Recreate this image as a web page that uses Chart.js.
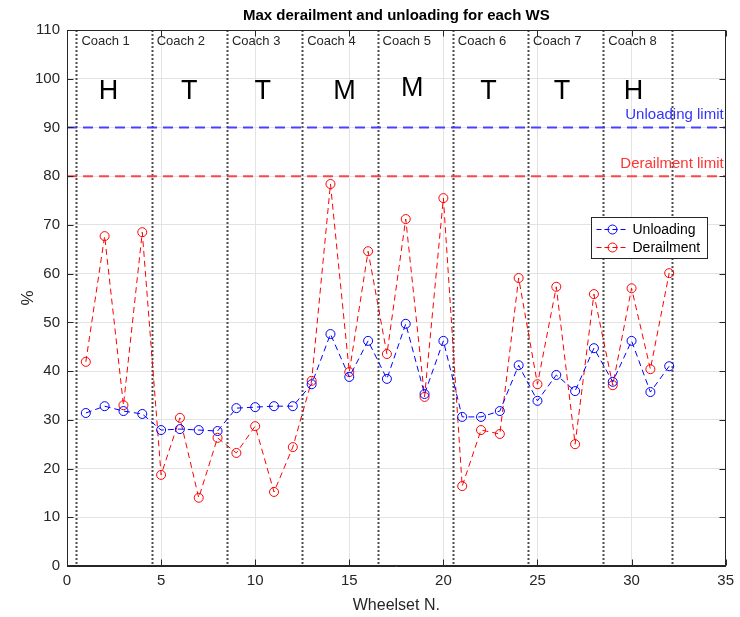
<!DOCTYPE html>
<html>
<head>
<meta charset="utf-8">
<script src="https://cdn.jsdelivr.net/npm/chart.js@4.4.1/dist/chart.umd.min.js"></script>
<style>
  html, body { margin: 0; padding: 0; background: #fff; }
  #wrap { width: 740px; height: 617px; }
</style>
</head>
<body>
<div id="wrap"><canvas id="chart" width="740" height="617"></canvas></div>
<script>
// Chart data
const wheelsets = [1, 2, 3, 4, 5, 6, 7, 8, 9, 10, 11, 12, 13, 14, 15, 16,
                   17, 18, 19, 20, 21, 22, 23, 24, 25, 26, 27, 28, 29, 30, 31, 32];
const unloading = [31.4, 32.8, 31.8, 31.2, 27.9, 28.1, 27.9, 27.7, 32.4, 32.6, 32.8, 32.8, 37.3, 47.6, 38.8, 46.2,
                   38.4, 49.7, 35.3, 46.2, 30.6, 30.6, 31.8, 41.2, 33.9, 39.2, 35.9, 44.7, 37.8, 46.2, 35.7, 41.0];
const derailment = [41.9, 67.7, 33.0, 68.5, 18.7, 30.4, 14.0, 26.3, 23.2, 28.7, 15.2, 24.4, 38.0, 78.4, 39.8, 64.6,
                    43.5, 71.2, 34.7, 75.5, 16.4, 27.9, 27.1, 59.1, 37.3, 57.3, 25.0, 55.8, 37.1, 57.0, 40.4, 60.1];

const unloadingLimit = 90;
const derailmentLimit = 80;

// Coach boundaries (wheelset axis) and annotations
const coachBounds = [0.5, 4.5, 8.5, 12.5, 16.5, 20.5, 24.5, 28.5, 32.15];
const coachNames = ['Coach 1', 'Coach 2', 'Coach 3', 'Coach 4', 'Coach 5', 'Coach 6', 'Coach 7', 'Coach 8'];
const coachTypes = ['H', 'T', 'T', 'M', 'M', 'T', 'T', 'H'];
const coachTypeX = [2.2, 6.5, 10.4, 14.75, 18.35, 22.4, 26.3, 30.1];
const coachTypeY = [97.3, 97.3, 97.3, 97.3, 98.0, 97.3, 97.3, 97.3];

const AXIS = '#262626';
const FONT = "'Liberation Sans', Arial, sans-serif";

const toPoints = (xs, ys) => xs.map((x, i) => ({ x: x, y: ys[i] }));

// Draws coach separators, labels, limit texts, legend and the axis box
const annotations = {
    id: 'annotations',
    beforeDatasetsDraw(chart) {
        const { ctx, scales: { x, y } } = chart;
        ctx.save();
        ctx.strokeStyle = '#4d4d4d';
        ctx.lineWidth = 2;
        ctx.setLineDash([2, 2]);
        coachBounds.forEach(b => {
            const px = Math.round(x.getPixelForValue(b)) + 0.5;
            ctx.beginPath();
            ctx.moveTo(px, y.getPixelForValue(110));
            ctx.lineTo(px, y.getPixelForValue(0));
            ctx.stroke();
        });
        ctx.restore();
    },
    afterDraw(chart) {
        const { ctx, chartArea: a, scales: { x, y } } = chart;
        ctx.save();

        // Title
        ctx.fillStyle = '#000';
        ctx.font = 'bold 15px ' + FONT;
        ctx.textAlign = 'center';
        ctx.textBaseline = 'middle';
        ctx.fillText('Max derailment and unloading for each WS', (a.left + a.right) / 2, 16);

        // Coach names
        ctx.fillStyle = AXIS;
        ctx.font = '13px ' + FONT;
        ctx.textAlign = 'left';
        coachNames.forEach((name, i) => {
            ctx.fillText(name, x.getPixelForValue(coachBounds[i]) + 5, y.getPixelForValue(107.6));
        });

        // Coach types
        ctx.fillStyle = '#000';
        ctx.font = '27px ' + FONT;
        ctx.textAlign = 'center';
        coachTypes.forEach((t, i) => {
            ctx.fillText(t, x.getPixelForValue(coachTypeX[i]), y.getPixelForValue(coachTypeY[i]));
        });

        // Limit labels
        ctx.font = '15px ' + FONT;
        ctx.textAlign = 'right';
        ctx.fillStyle = '#3333ff';
        ctx.fillText('Unloading limit', a.right - 2, y.getPixelForValue(92.6));
        ctx.fillStyle = '#ff3333';
        ctx.fillText('Derailment limit', a.right - 2, y.getPixelForValue(82.5));

        // Legend
        const lx = 591.5, ly = 217.5, lw = 116, lh = 41;
        ctx.fillStyle = '#fff';
        ctx.fillRect(lx, ly, lw, lh);
        ctx.strokeStyle = AXIS;
        ctx.lineWidth = 1;
        ctx.strokeRect(lx, ly, lw, lh);
        const rows = [
            { label: 'Unloading', color: '#0000ff', cy: ly + 12 },
            { label: 'Derailment', color: '#ff0000', cy: ly + 30 }
        ];
        rows.forEach(r => {
            ctx.strokeStyle = r.color;
            ctx.setLineDash([5, 3]);
            ctx.beginPath();
            ctx.moveTo(lx + 5, r.cy);
            ctx.lineTo(lx + 37, r.cy);
            ctx.stroke();
            ctx.setLineDash([]);
            ctx.beginPath();
            ctx.arc(lx + 21, r.cy, 4.5, 0, Math.PI * 2);
            ctx.stroke();
            ctx.fillStyle = '#000';
            ctx.font = '14px ' + FONT;
            ctx.textAlign = 'left';
            ctx.fillText(r.label, lx + 41, r.cy + 1);
        });

        // Axis box and inward ticks
        ctx.strokeStyle = AXIS;
        ctx.lineWidth = 1;
        ctx.setLineDash([]);
        const L = Math.round(a.left) + 0.5, R = Math.round(a.right) - 0.5;
        const T = Math.round(a.top) + 0.5, B = Math.round(a.bottom) - 0.5;
        ctx.strokeRect(L, T, R - L, B - T);
        ctx.beginPath();
        x.ticks.forEach(t => {
            const px = Math.round(x.getPixelForValue(t.value)) + 0.5;
            ctx.moveTo(px, B); ctx.lineTo(px, B - 6);
            ctx.moveTo(px, T); ctx.lineTo(px, T + 6);
        });
        y.ticks.forEach(t => {
            const py = Math.round(y.getPixelForValue(t.value)) + 0.5;
            ctx.moveTo(L, py); ctx.lineTo(L + 6, py);
            ctx.moveTo(R, py); ctx.lineTo(R - 6, py);
        });
        ctx.stroke();
        ctx.restore();
    }
};

const seriesStyle = (color) => ({
    borderColor: color,
    backgroundColor: 'rgba(0,0,0,0)',
    borderWidth: 1,
    borderDash: [6, 4],
    pointRadius: 4.5,
    pointBorderWidth: 1,
    pointBorderColor: color,
    pointBackgroundColor: 'rgba(0,0,0,0)',
    tension: 0
});

const limitStyle = (color) => ({
    borderColor: color,
    borderWidth: 2,
    borderDash: [10, 6],
    pointRadius: 0,
    fill: false
});

new Chart(document.getElementById('chart'), {
    type: 'line',
    data: {
        datasets: [
            { label: 'Unloading limit', data: toPoints([0, 35], [unloadingLimit, unloadingLimit]), ...limitStyle('rgba(51,51,255,0.9)') },
            { label: 'Derailment limit', data: toPoints([0, 35], [derailmentLimit, derailmentLimit]), ...limitStyle('rgba(255,51,51,0.9)') },
            { label: 'Unloading', data: toPoints(wheelsets, unloading), ...seriesStyle('#0000ff') },
            { label: 'Derailment', data: toPoints(wheelsets, derailment), ...seriesStyle('#ff0000') }
        ]
    },
    options: {
        responsive: false,
        animation: false,
        layout: { padding: { top: 30, right: 11, left: 0, bottom: 0 } },
        plugins: {
            legend: { display: false },
            title: { display: false },
            tooltip: { enabled: false }
        },
        scales: {
            x: {
                type: 'linear',
                min: 0,
                max: 35,
                ticks: { stepSize: 5, padding: 6, color: AXIS, font: { family: FONT, size: 15 }, maxRotation: 0 },
                grid: { color: '#e3e3e3', drawTicks: false },
                border: { color: AXIS },
                title: { display: true, text: 'Wheelset N.', color: AXIS, font: { family: FONT, size: 16 }, padding: { top: 4, bottom: 2 } },
                afterFit: (scale) => { scale.height = 51; }
            },
            y: {
                type: 'linear',
                min: 0,
                max: 110,
                ticks: { stepSize: 10, padding: 7, color: AXIS, font: { family: FONT, size: 15 } },
                grid: { color: '#e3e3e3', drawTicks: false },
                border: { color: AXIS },
                title: { display: true, text: '%', color: AXIS, font: { family: FONT, size: 17 }, padding: { top: 18, bottom: 0 } },
                afterFit: (scale) => { scale.width = 67; }
            }
        }
    },
    plugins: [annotations]
});
</script>
</body>
</html>
